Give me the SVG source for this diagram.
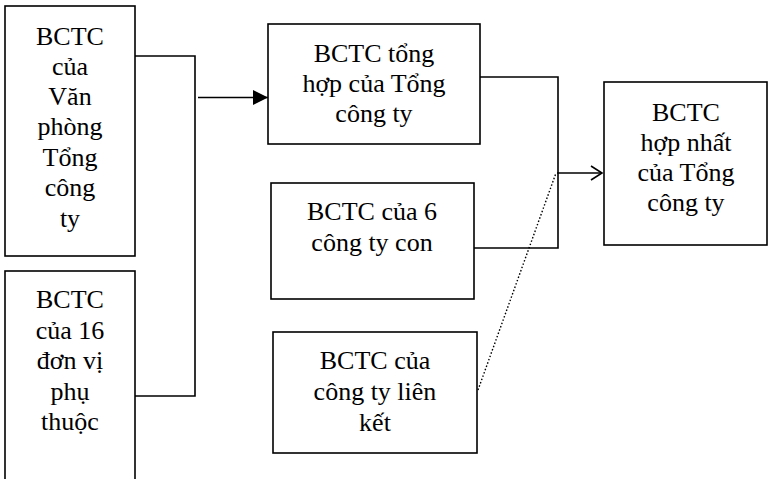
<svg xmlns="http://www.w3.org/2000/svg" width="769" height="479" viewBox="0 0 769 479">
<style>
.box{fill:#fff;stroke:#000;stroke-width:1.6}
.t{font-family:"Liberation Serif","Times New Roman",serif;font-size:26px;fill:#000;text-anchor:middle}
.c{fill:none;stroke:#000;stroke-width:1.6}
.d{fill:none;stroke:#000;stroke-width:1.4;stroke-dasharray:1.5 2}
</style>
<defs>
<marker id="fa" markerWidth="16" markerHeight="16" refX="15" refY="7.5" orient="auto" markerUnits="userSpaceOnUse">
<path d="M0,0 L15,7.5 L0,15 Z" fill="#000"/>
</marker>
<marker id="oa" markerWidth="16" markerHeight="18" refX="12" refY="8" orient="auto" markerUnits="userSpaceOnUse">
<path d="M1,1 L12,8 L1,15" fill="none" stroke="#000" stroke-width="1.6"/>
</marker>
</defs>
<g id="connectors">
<path class="c" d="M135,56 H195 V396 H135"/>
<path class="c" d="M198,97.5 H268" marker-end="url(#fa)"/>
<path class="c" d="M476,77 H558 V248 H474"/>
<path class="c" d="M557,173 H602" marker-end="url(#oa)"/>
<path class="d" d="M478,390 L556,173"/>
</g>
<g id="n1"><rect class="box" x="5" y="6" width="130" height="250"/>
<text class="t" font-family="Liberation Serif, serif"><tspan x="70" y="45">BCTC</tspan><tspan x="70" y="75">của</tspan><tspan x="70" y="105">Văn</tspan><tspan x="70" y="135">phòng</tspan><tspan x="70" y="166">Tổng</tspan><tspan x="70" y="196">công</tspan><tspan x="70" y="227">ty</tspan></text></g>
<g id="n2"><rect class="box" x="5" y="271" width="130" height="220"/>
<text class="t" font-family="Liberation Serif, serif"><tspan x="70" y="308">BCTC</tspan><tspan x="70" y="339">của 16</tspan><tspan x="70" y="369">đơn vị</tspan><tspan x="70" y="400">phụ</tspan><tspan x="70" y="430">thuộc</tspan></text></g>
<g id="n3"><rect class="box" x="268" y="24" width="212" height="120"/>
<text class="t" font-family="Liberation Serif, serif"><tspan x="374" y="62">BCTC tổng</tspan><tspan x="374" y="92">hợp của Tổng</tspan><tspan x="374" y="122">công ty</tspan></text></g>
<g id="n4"><rect class="box" x="271" y="183" width="203" height="116"/>
<text class="t" font-family="Liberation Serif, serif"><tspan x="372" y="220">BCTC của 6</tspan><tspan x="372" y="251">công ty con</tspan></text></g>
<g id="n5"><rect class="box" x="273" y="332" width="204" height="121"/>
<text class="t" font-family="Liberation Serif, serif"><tspan x="375" y="369">BCTC của</tspan><tspan x="375" y="400">công ty liên</tspan><tspan x="375" y="431">kết</tspan></text></g>
<g id="n6"><rect class="box" x="604" y="82" width="163" height="163"/>
<text class="t" font-family="Liberation Serif, serif"><tspan x="686" y="121">BCTC</tspan><tspan x="686" y="151">hợp nhất</tspan><tspan x="686" y="181">của Tổng</tspan><tspan x="686" y="211">công ty</tspan></text></g>
</svg>
